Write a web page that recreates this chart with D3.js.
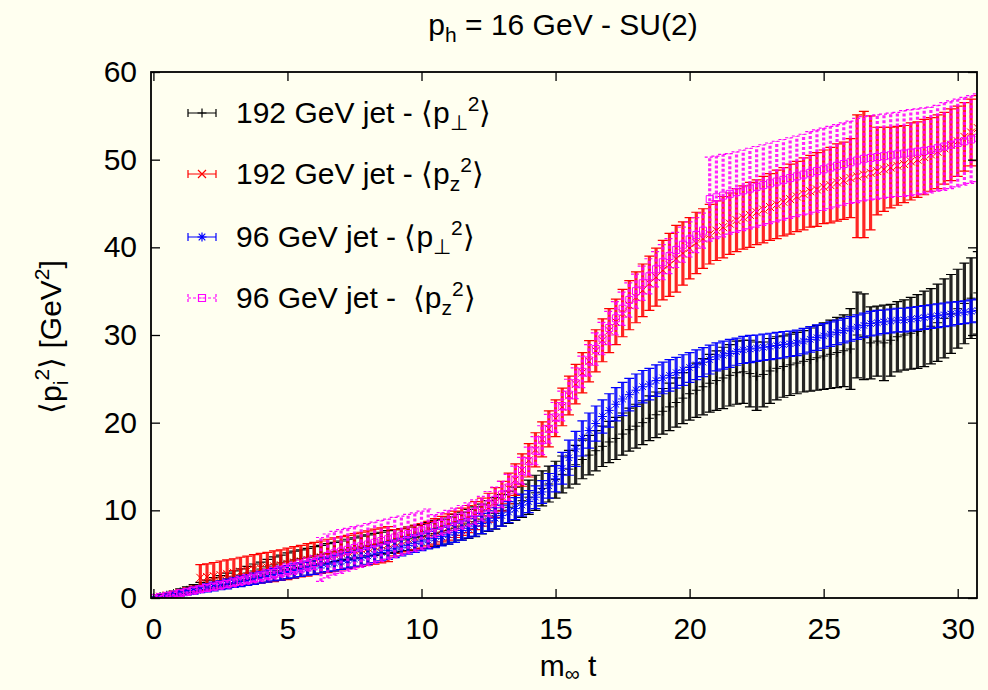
<!DOCTYPE html>
<html>
<head>
<meta charset="utf-8">
<script src="https://cdn.jsdelivr.net/npm/d3@7"></script>
<style>
  body { margin: 0; background: #fffff0; }
  svg text { font-family: "Liberation Sans", Arial, Helvetica, sans-serif; fill: #000; white-space: pre; }
</style>
</head>
<body>
<svg id="chart" width="988" height="690"></svg>
<script>
// Sampling times m_inf t (shared by every series)
const times = [
  0, 0.25, 0.5, 0.75, 1, 1.25, 1.5, 1.75, 2, 2.25, 2.5, 2.75, 3, 3.25, 3.5, 3.75,
  4, 4.25, 4.5, 4.75, 5, 5.25, 5.5, 5.75, 6, 6.25, 6.5, 6.75, 7, 7.25, 7.5, 7.75,
  8, 8.25, 8.5, 8.75, 9, 9.25, 9.5, 9.75, 10, 10.25, 10.5, 10.75, 11, 11.25, 11.5, 11.75,
  12, 12.25, 12.5, 12.75, 13, 13.25, 13.5, 13.75, 14, 14.25, 14.5, 14.75, 15, 15.25, 15.5, 15.75,
  16, 16.25, 16.5, 16.75, 17, 17.25, 17.5, 17.75, 18, 18.25, 18.5, 18.75, 19, 19.25, 19.5, 19.75,
  20, 20.25, 20.5, 20.75, 21, 21.25, 21.5, 21.75, 22, 22.25, 22.5, 22.75, 23, 23.25, 23.5, 23.75,
  24, 24.25, 24.5, 24.75, 25, 25.25, 25.5, 25.75, 26, 26.25, 26.5, 26.75, 27, 27.25, 27.5, 27.75,
  28, 28.25, 28.5, 28.75, 29, 29.25, 29.5, 29.75, 30, 30.25, 30.5, 30.75
];

// 192 GeV jet, <p_perp^2>
const jet192Perp = [
  0.00, 0.15, 0.32, 0.50,  0.70, 0.88, 1.08, 1.28,  1.50, 1.72, 1.95, 2.18,  2.40, 2.62, 2.85, 3.08,
  3.30, 3.55, 3.78, 4.00,  4.20, 4.35, 4.50, 4.65,  4.80, 4.95, 5.10, 5.25,  5.40, 5.55, 5.70, 5.85,
  6.00, 6.12, 6.25, 6.38,  6.50, 6.62, 6.75, 6.88,  7.00, 7.15, 7.35, 7.50,  7.70, 7.95, 8.20, 8.45,
  8.70, 9.00, 9.35, 9.65,  10.0, 10.35, 10.75, 11.1, 11.5, 12.0, 12.5, 13.0,  13.5, 14.1, 14.7, 15.2,
  15.8, 16.3, 16.8, 17.3,  17.8, 18.2, 18.7, 19.2,  19.6, 20.0, 20.5, 20.9,  21.3, 21.8, 22.3, 22.8,
  23.3, 23.7, 24.1, 24.5,  24.8, 25.1, 25.4, 25.7,  25.8, 25.6, 25.3, 25.5,  25.9, 26.2, 26.4, 26.6,
  26.8, 27.0, 27.2, 27.4,  27.6, 27.8, 28.0, 28.2,  28.4, 30.0, 29.8, 29.1,  29.3, 29.1, 29.4, 29.8,
  30.0, 30.2, 30.4, 30.7,  31.0, 31.4, 31.9, 32.4,  33.0, 33.6, 34.2, 34.8
];
const jet192PerpErr = [
  0.10, 0.20, 0.25, 0.30,  0.35, 0.40, 0.45, 0.50,  0.55, 0.60, 0.60, 0.65,  0.70, 0.70, 0.75, 0.80,
  0.80, 0.85, 0.90, 0.90,  0.95, 1.00, 1.00, 1.00,  1.05, 1.05, 1.10, 1.10,  1.10, 1.15, 1.15, 1.20,
  1.20, 1.25, 1.25, 1.30,  1.30, 1.30, 1.35, 1.40,  1.40, 1.45, 1.50, 1.50,  1.55, 1.60, 1.60, 1.65,
  1.70, 1.70, 1.75, 1.80,  1.80, 1.85, 1.90, 1.90,  1.95, 2.00, 2.00, 2.05,  2.10, 2.10, 2.15, 2.20,
  2.20, 2.25, 2.30, 2.30,  2.35, 2.40, 2.40, 2.45,  2.50, 2.50, 2.55, 2.60,  2.60, 2.70, 2.80, 2.90,
  3.00, 3.10, 3.20, 3.30,  3.40, 3.50, 3.50, 3.60,  3.60, 3.80, 3.90, 3.70,  3.70, 3.60, 3.50, 3.50,
  3.50, 3.50, 3.60, 3.70,  3.80, 3.90, 4.00, 4.10,  4.60, 4.90, 4.90, 4.10,  4.00, 4.30, 4.10, 4.00,
  4.00, 4.10, 4.20, 4.30,  4.30, 4.40, 4.50, 4.50,  4.50, 4.60, 4.60, 4.70
];

// 192 GeV jet, <p_z^2>
const jet192Z = [
  0.00, 0.15, 0.30, 0.45,  0.60, 0.78, 0.95, 2.30,  2.40, 2.50, 2.62, 2.75,  2.88, 3.00, 3.12, 3.25,
  3.38, 3.50, 3.62, 3.75,  3.90, 4.05, 4.20, 4.35,  4.50, 4.65, 4.80, 4.95,  5.10, 5.25, 5.40, 5.55,
  5.70, 5.85, 6.00, 6.15,  6.30, 6.50, 6.70, 6.90,  7.10, 7.35, 7.60, 7.85,  8.10, 8.40, 8.70, 9.00,
  9.40, 9.80, 10.3, 10.9,  11.6, 12.5, 13.5, 14.6,  15.7, 16.9, 18.1, 19.3,  20.5, 21.8, 23.1, 24.4,
  25.7, 27.0, 28.2, 29.4,  30.5, 31.5, 32.5, 33.4,  34.3, 35.1, 35.9, 36.6,  37.4, 38.0, 38.7, 39.3,
  39.9, 40.5, 41.0, 41.5,  41.9, 42.3, 42.7, 43.1,  43.4, 43.7, 44.0, 44.3,  44.6, 44.9, 45.2, 45.5,
  45.8, 46.1, 46.4, 46.6,  46.9, 47.1, 47.4, 47.6,  47.9, 48.1, 48.3, 48.5,  48.7, 48.9, 49.1, 49.3,
  49.5, 49.8, 50.0, 50.3,  50.6, 50.9, 51.3, 51.7,  52.1, 52.6, 53.1, 53.6
];
const jet192ZErr = [
  0.10, 0.15, 0.20, 0.25,  0.30, 0.35, 0.40, 1.50,  1.50, 1.55, 1.60, 1.60,  1.60, 1.65, 1.65, 1.70,
  1.70, 1.70, 1.75, 1.75,  1.80, 1.80, 1.80, 1.85,  1.85, 1.85, 1.90, 1.90,  1.90, 1.90, 1.95, 1.95,
  1.95, 2.00, 2.00, 2.00,  1.50, 1.40, 1.40, 1.40,  1.40, 1.40, 1.45, 1.45,  1.50, 1.50, 1.55, 1.55,
  1.60, 1.60, 1.65, 1.70,  1.70, 1.75, 1.80, 1.85,  1.90, 1.95, 2.00, 2.05,  2.10, 2.15, 2.20, 2.25,
  2.30, 2.35, 2.40, 2.45,  2.50, 2.60, 2.70, 2.80,  2.90, 3.00, 3.10, 3.30,  3.40, 3.60, 3.80, 3.60,
  3.50, 3.50, 3.40, 3.40,  3.40, 3.50, 3.50, 3.60,  3.60, 3.70, 3.70, 3.80,  3.80, 3.90, 3.90, 4.00,
  4.00, 4.10, 4.10, 4.20,  4.20, 4.30, 4.40, 4.40,  4.50, 7.00, 7.20, 6.50,  5.00, 4.80, 4.60, 4.50,
  4.40, 4.40, 4.30, 4.30,  4.20, 4.20, 4.10, 4.10,  4.00, 3.90, 3.80, 3.70
];

// 96 GeV jet, <p_perp^2>
const jet96Perp = [
  0.00, 0.12, 0.25, 0.40,  0.55, 0.70, 0.85, 1.00,  1.15, 1.30, 1.45, 1.60,  1.75, 1.90, 2.05, 2.20,
  2.35, 2.50, 2.65, 2.80,  2.95, 3.10, 3.25, 3.40,  3.55, 3.70, 3.85, 4.00,  4.15, 4.30, 4.45, 4.60,
  4.80, 5.00, 5.20, 5.40,  5.60, 5.80, 6.00, 6.20,  6.40, 6.60, 6.80, 7.00,  7.20, 7.45, 7.70, 7.95,
  8.20, 8.50, 8.80, 9.10,  9.40, 9.80, 10.2, 10.6,  11.0, 11.5, 12.1, 12.8,  13.6, 14.8, 16.0, 17.0,
  18.2, 19.1, 19.9, 20.7,  21.4, 22.1, 22.7, 23.2,  23.7, 24.1, 24.4, 24.8,  25.1, 25.4, 25.7, 26.0,
  26.3, 26.6, 26.9, 27.2,  27.5, 27.7, 27.9, 28.1,  28.3, 28.4, 28.5, 28.6,  28.7, 28.8, 28.9, 29.0,
  29.1, 29.3, 29.5, 29.7,  29.9, 30.1, 30.3, 30.5,  30.7, 30.9, 31.1, 31.3,  31.4, 31.5, 31.6, 31.7,
  31.7, 31.8, 31.9, 32.0,  32.1, 32.2, 32.3, 32.4,  32.5, 32.6, 32.7, 32.8
];
const jet96PerpErr = [
  0.10, 0.15, 0.20, 0.25,  0.30, 0.35, 0.40, 0.40,  0.45, 0.50, 0.50, 0.55,  0.55, 0.60, 0.60, 0.65,
  0.65, 0.70, 0.70, 0.75,  0.75, 0.80, 0.80, 0.80,  0.85, 0.85, 0.85, 0.90,  0.90, 0.90, 0.90, 0.95,
  0.95, 0.95, 0.95, 1.00,  1.00, 1.00, 1.00, 1.00,  1.00, 1.00, 1.05, 1.05,  1.05, 1.10, 1.10, 1.10,
  1.15, 1.15, 1.15, 1.20,  1.20, 1.20, 1.25, 1.25,  1.25, 1.30, 1.30, 1.40,  1.50, 1.80, 2.00, 2.00,
  2.00, 2.00, 2.00, 1.90,  1.90, 1.90, 1.90, 1.85,  1.85, 1.85, 1.80, 1.80,  1.80, 1.80, 1.75, 1.75,
  1.70, 1.70, 1.65, 1.65,  1.60, 1.60, 1.60, 1.55,  1.55, 1.55, 1.50, 1.50,  1.50, 1.50, 1.50, 1.45,
  1.45, 1.45, 1.45, 1.45,  1.40, 1.40, 1.40, 1.40,  1.40, 1.40, 1.40, 1.40,  1.40, 1.35, 1.35, 1.35,
  1.35, 1.35, 1.35, 1.35,  1.35, 1.35, 1.35, 1.35,  1.30, 1.30, 1.30, 1.30
];

// 96 GeV jet, <p_z^2>
const jet96Z = [
  0.00, 0.12, 0.25, 0.40,  0.55, 0.70, 0.85, 1.00,  1.15, 1.30, 1.45, 1.60,  1.78, 1.95, 2.12, 2.30,
  2.48, 2.66, 2.84, 3.02,  3.20, 3.40, 3.60, 3.80,  4.00, 4.40, 4.80, 5.10,  5.30, 5.50, 5.70, 5.90,
  6.10, 6.30, 6.50, 6.70,  6.90, 7.10, 7.30, 7.50,  7.70, 7.95, 8.20, 8.45,  8.70, 8.95, 9.20, 9.50,
  9.80, 10.2, 10.7, 11.2,  11.8, 12.6, 13.5, 14.5,  15.6, 16.8, 18.0, 19.3,  20.6, 21.9, 23.2, 24.5,
  25.8, 27.1, 28.4, 29.6,  30.8, 31.9, 33.0, 34.0,  35.0, 35.9, 36.7, 37.5,  38.3, 39.0, 39.7, 40.3,
  40.9, 41.4, 41.9, 45.5,  45.7, 45.9, 46.1, 46.3,  46.5, 46.7, 46.9, 47.1,  47.3, 47.5, 47.7, 47.9,
  48.1, 48.3, 48.5, 48.7,  48.9, 49.1, 49.3, 49.5,  49.7, 49.9, 50.1, 50.2,  50.3, 50.4, 50.5, 50.6,
  50.7, 50.8, 50.9, 51.0,  51.1, 51.3, 51.5, 51.7,  51.9, 52.1, 52.3, 52.5
];
const jet96ZErr = [
  0.10, 0.15, 0.20, 0.25,  0.30, 0.30, 0.35, 0.35,  0.40, 0.40, 0.45, 0.45,  0.50, 0.50, 0.55, 0.55,
  0.60, 0.60, 0.65, 0.65,  0.70, 0.70, 0.75, 0.75,  0.80, 2.50, 2.50, 2.50,  2.50, 2.45, 2.45, 2.40,
  2.40, 2.35, 2.35, 2.30,  2.30, 2.25, 2.25, 2.20,  2.20, 2.20, 1.30, 1.30,  1.30, 1.30, 1.35, 1.35,
  1.40, 1.40, 1.45, 1.45,  1.50, 1.50, 1.55, 1.55,  1.60, 1.60, 1.65, 1.65,  1.70, 1.70, 1.75, 1.75,
  1.80, 1.80, 1.85, 1.85,  1.90, 1.90, 1.90, 1.95,  1.95, 1.95, 2.00, 2.00,  2.00, 2.00, 2.00, 2.00,
  2.00, 2.00, 2.00, 4.80,  4.70, 4.70, 4.60, 4.60,  4.60, 4.60, 4.60, 4.60,  4.60, 4.60, 4.60, 4.60,
  4.60, 4.60, 4.70, 4.70,  4.70, 4.70, 4.70, 4.70,  4.70, 4.80, 4.80, 4.80,  4.80, 4.80, 4.80, 4.80,
  4.90, 4.90, 4.90, 4.90,  4.90, 4.90, 5.00, 5.00,  5.00, 5.00, 5.00, 5.00
];

const xTicks = [0, 5, 10, 15, 20, 25, 30];
const yTicks = [0, 10, 20, 30, 40, 50, 60];

const series = [
  { label: "192 GeV jet - ", comp: "⊥", values: jet192Perp, errors: jet192PerpErr, color: "#000000", marker: "plus", dash: null },
  { label: "192 GeV jet - ", comp: "z", values: jet192Z, errors: jet192ZErr, color: "#ff0000", marker: "cross", dash: null },
  { label: "96 GeV jet - ", comp: "⊥", values: jet96Perp, errors: jet96PerpErr, color: "#0000ff", marker: "star", dash: null },
  { label: "96 GeV jet -  ", comp: "z", values: jet96Z, errors: jet96ZErr, color: "#ff00ff", marker: "box", dash: "3,2" }
];

const svg = d3.select("#chart");
const W = 988, H = 690;
const plot = { left: 151, right: 977, top: 72, bottom: 598 };
const FS = 30, FS_SMALL = 21;

svg.append("rect").attr("width", W).attr("height", H).attr("fill", "#fffff0");

const x = d3.scaleLinear().domain([-0.09, 30.72]).range([plot.left, plot.right]);
const y = d3.scaleLinear().domain([0, 60]).range([plot.bottom, plot.top]);

svg.append("defs").append("clipPath").attr("id", "plotClip")
  .append("rect")
  .attr("x", plot.left).attr("y", plot.top)
  .attr("width", plot.right - plot.left).attr("height", plot.bottom - plot.top);

const markerPaths = {
  plus: "M-4.5,0H4.5M0,-4.5V4.5",
  cross: "M-4,-4L4,4M-4,4L4,-4",
  star: "M-4.5,0H4.5M0,-4.5V4.5M-3.3,-3.3L3.3,3.3M-3.3,3.3L3.3,-3.3",
  box: "M-3.5,-3.5H3.5V3.5H-3.5ZM-0.6,0H0.6"
};

const cap = 5;
const dataLayer = svg.append("g").attr("clip-path", "url(#plotClip)");

series.forEach(s => {
  const pts = times.map((t, i) => ({ t, v: s.values[i], e: s.errors[i] }));
  const g = dataLayer.append("g").attr("stroke", s.color).attr("fill", "none");

  const bars = g.selectAll("g.bar").data(pts).join("g").attr("class", "bar");
  // vertical error bar
  bars.append("path")
    .attr("stroke-width", 3.2)
    .attr("stroke-opacity", 0.85)
    .attr("stroke-dasharray", s.dash)
    .attr("d", d => `M${x(d.t)},${y(d.v - d.e)}V${y(d.v + d.e)}`);
  // caps
  bars.append("path")
    .attr("stroke-width", 1.2)
    .attr("stroke-dasharray", s.dash)
    .attr("d", d => {
      const px = x(d.t), lo = y(d.v - d.e), hi = y(d.v + d.e);
      return `M${px - cap},${hi}H${px + cap}M${px - cap},${lo}H${px + cap}`;
    });
  // point marker
  bars.append("path")
    .attr("stroke-width", 1)
    .attr("transform", d => `translate(${x(d.t)},${y(d.v)})`)
    .attr("d", markerPaths[s.marker]);
});

// Axes: inward ticks on all four sides, labels on bottom and left
const tickLen = 9;
const axisStyle = g => {
  g.select(".domain").remove();
  g.selectAll(".tick line").attr("stroke", "#000").attr("stroke-width", 1.3);
  g.selectAll(".tick text").attr("font-size", FS).attr("fill", "#000")
    .attr("font-family", "'Liberation Sans', Arial, sans-serif");
};

svg.append("g").attr("transform", `translate(0,${plot.bottom})`)
  .call(d3.axisBottom(x).tickValues(xTicks).tickSize(-tickLen).tickPadding(20).tickFormat(d3.format("d")))
  .call(axisStyle);
svg.append("g").attr("transform", `translate(0,${plot.top})`)
  .call(d3.axisTop(x).tickValues(xTicks).tickSize(-tickLen).tickFormat(""))
  .call(axisStyle);
svg.append("g").attr("transform", `translate(${plot.left},0)`)
  .call(d3.axisLeft(y).tickValues(yTicks).tickSize(-tickLen).tickPadding(14).tickFormat(d3.format("d")))
  .call(axisStyle);
svg.append("g").attr("transform", `translate(${plot.right},0)`)
  .call(d3.axisRight(y).tickValues(yTicks).tickSize(-tickLen).tickFormat(""))
  .call(axisStyle);

svg.append("rect")
  .attr("x", plot.left).attr("y", plot.top)
  .attr("width", plot.right - plot.left).attr("height", plot.bottom - plot.top)
  .attr("fill", "none").attr("stroke", "#000").attr("stroke-width", 1.8);

// Title
const title = svg.append("text").attr("x", 563).attr("y", 35).attr("text-anchor", "middle").attr("font-size", FS);
title.append("tspan").text("p");
title.append("tspan").attr("font-size", FS_SMALL).attr("dy", 7).text("h");
title.append("tspan").attr("dy", -7).text(" = 16 GeV - SU(2)");

// Axis titles
const xl = svg.append("text").attr("x", 568).attr("y", 676).attr("text-anchor", "middle").attr("font-size", FS);
xl.append("tspan").text("m");
xl.append("tspan").attr("font-size", FS_SMALL).attr("dy", 5).text("∞");
xl.append("tspan").attr("dy", -5).text(" t");

const yl = svg.append("text").attr("transform", "translate(61,337) rotate(-90)")
  .attr("text-anchor", "middle").attr("font-size", FS);
yl.append("tspan").text("⟨p");
yl.append("tspan").attr("font-size", FS_SMALL).attr("dy", 7).text("i");
yl.append("tspan").attr("font-size", FS_SMALL).attr("dy", -19).text("2");
yl.append("tspan").attr("dy", 12).text("⟩ [GeV");
yl.append("tspan").attr("font-size", FS_SMALL).attr("dy", -12).text("2");
yl.append("tspan").attr("dy", 12).text("]");

// Legend
const legendRows = [113, 174, 237, 298];
series.forEach((s, i) => {
  const ly = legendRows[i];
  const lg = svg.append("g").attr("stroke", s.color).attr("fill", "none").attr("stroke-width", 1.2);
  lg.append("path").attr("stroke-dasharray", s.dash)
    .attr("d", `M188,${ly}H216M188,${ly - 4}V${ly + 4}M216,${ly - 4}V${ly + 4}`);
  lg.append("path").attr("transform", `translate(202,${ly})`).attr("d", markerPaths[s.marker]);

  const t = svg.append("text").attr("x", 236).attr("y", ly + 10).attr("font-size", FS);
  t.append("tspan").text(s.label + "⟨p");
  t.append("tspan").attr("font-size", FS_SMALL).attr("dy", 7).text(s.comp);
  t.append("tspan").attr("font-size", FS_SMALL).attr("dy", -19).text("2");
  t.append("tspan").attr("dy", 12).text("⟩");
});
</script>
</body>
</html>
